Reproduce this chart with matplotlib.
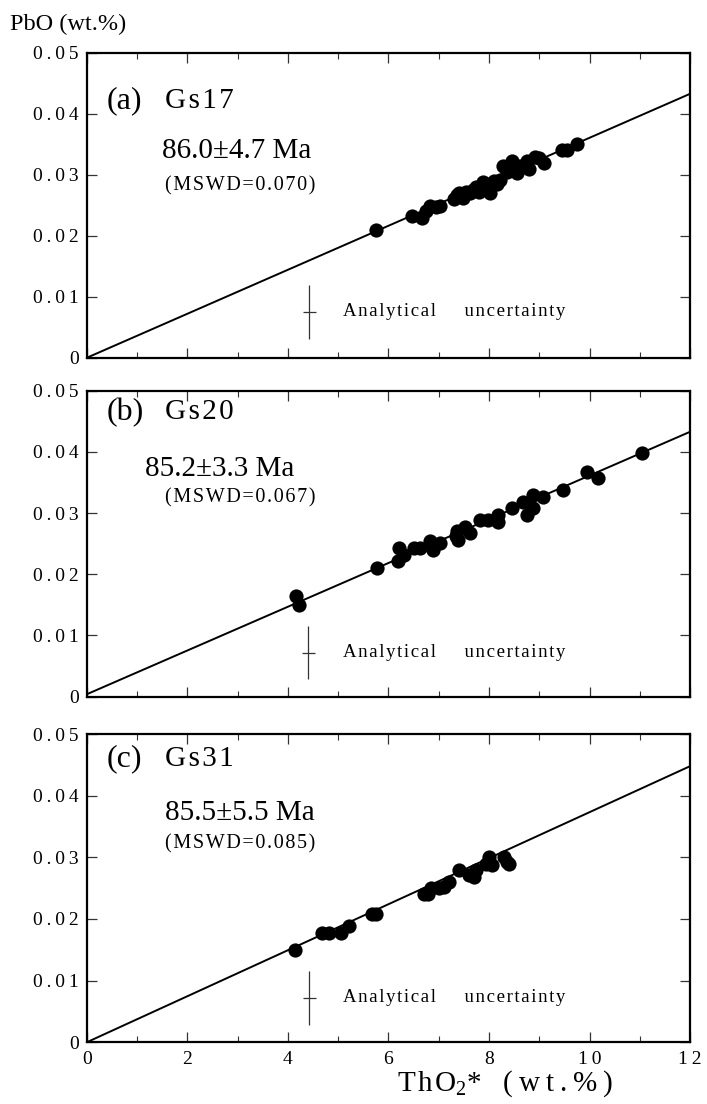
import matplotlib
matplotlib.use("Agg")
import matplotlib.pyplot as plt
import numpy as np

plt.rcParams['font.family'] = ['Liberation Serif', 'DejaVu Serif']
plt.rcParams['mathtext.fontset'] = 'custom'
plt.rcParams['mathtext.rm'] = 'Liberation Serif'

# ---- data ----
samples = ["Gs17", "Gs20", "Gs31"]
panel_tags = ["(a)", "(b)", "(c)"]
ages = ["86.0\u00b14.7 Ma", "85.2\u00b13.3 Ma", "85.5\u00b15.5 Ma"]
mswd = ["(MSWD=0.070)", "(MSWD=0.067)", "(MSWD=0.085)"]

a_tho2 = [5.76, 6.46, 6.66, 6.75, 6.83, 6.95, 7.02, 7.30, 7.36, 7.40, 7.49, 7.55,
          7.62, 7.69, 7.75, 7.80, 7.89, 7.95, 8.02, 8.10, 8.15, 8.22, 8.28, 8.35,
          8.45, 8.50, 8.55, 8.62, 8.75, 8.80, 8.92, 9.00, 9.10, 9.45, 9.55, 9.75]
a_pbo = [0.0210, 0.0232, 0.0229, 0.0240, 0.0249, 0.0248, 0.0249, 0.0260, 0.0267,
         0.0270, 0.0262, 0.0272, 0.0270, 0.0275, 0.0280, 0.0272, 0.0289, 0.0285,
         0.0270, 0.0290, 0.0285, 0.0292, 0.0314, 0.0305, 0.0322, 0.0310, 0.0303,
         0.0315, 0.0322, 0.0310, 0.0330, 0.0328, 0.0320, 0.0340, 0.0340, 0.0350]

b_tho2 = [4.15, 4.21, 5.77, 6.18, 6.20, 6.30, 6.50, 6.63, 6.83, 6.88, 7.02, 7.35,
          7.36, 7.39, 7.52, 7.62, 7.82, 7.98, 8.18, 8.18, 8.45, 8.68, 8.75, 8.88,
          8.88, 9.08, 9.48, 9.94, 10.17, 11.04]
b_pbo = [0.0164, 0.0150, 0.0210, 0.0222, 0.0243, 0.0232, 0.0243, 0.0243, 0.0254,
         0.0240, 0.0251, 0.0262, 0.0270, 0.0256, 0.0278, 0.0268, 0.0289, 0.0289,
         0.0297, 0.0286, 0.0309, 0.0319, 0.0297, 0.0309, 0.0330, 0.0327, 0.0338,
         0.0368, 0.0358, 0.0398]

c_tho2 = [4.14, 4.68, 4.82, 5.06, 5.22, 5.67, 5.76, 6.70, 6.78, 6.85, 7.00, 7.10,
          7.20, 7.40, 7.60, 7.70, 7.75, 7.95, 8.00, 8.05, 8.30, 8.35, 8.40]
c_pbo = [0.0150, 0.0178, 0.0178, 0.0178, 0.0189, 0.0208, 0.0208, 0.0240, 0.0240,
         0.0250, 0.0250, 0.0252, 0.0260, 0.0280, 0.0272, 0.0268, 0.0280, 0.0290,
         0.0300, 0.0288, 0.0300, 0.0292, 0.0290]

# isochron end points (x = 0 and x = 12)
line_x = [0, 12]
line_y = [[0.0, 0.0433], [0.0004, 0.0433], [0.0, 0.0448]]

# analytical uncertainty cross: centre and half widths
err_x = [4.42, 4.40, 4.42]
err_y = [0.0075, 0.0072, 0.0072]
err_dx = 0.13
err_dy = 0.0044

xs = [a_tho2, b_tho2, c_tho2]
ys = [a_pbo, b_pbo, c_pbo]

# text positions in data units
tag_y = [0.0421, 0.0465, 0.0460]
age_pos = [(1.50, 0.0339), (1.15, 0.0372), (1.55, 0.0372)]
mswd_y = [0.0282, 0.0325, 0.0322]

HAIR = "\u200a"
THIN = "\u2009"


def spaced(s, gap=HAIR):
    return gap.join(list(s))


fig = plt.figure(figsize=(7.07, 11.04), dpi=100)
boxes = [(0.123, 0.676, 0.853, 0.276),
         (0.123, 0.369, 0.853, 0.277),
         (0.123, 0.056, 0.853, 0.279)]

for i in range(3):
    ax = fig.add_axes(boxes[i])
    ax.plot(line_x, line_y[i], color="black", lw=1.4, zorder=2)
    ax.scatter(xs[i], ys[i], s=105, color="black", zorder=3, linewidths=0)
    ax.errorbar(err_x[i], err_y[i], xerr=err_dx, yerr=err_dy, fmt="none",
                ecolor="#333333", elinewidth=0.9, capsize=0)

    ax.set_xlim(0, 12)
    ax.set_ylim(0, 0.05)
    ax.set_xticks(np.arange(0, 13, 2))
    ax.set_xticks(np.arange(0, 13, 1), minor=True)
    ax.set_yticks(np.arange(0, 0.051, 0.01))
    ax.set_yticklabels(["0"] + [spaced("%.2f" % v, THIN) for v in [0.01, 0.02, 0.03, 0.04, 0.05]],
                       fontsize=14)
    if i == 2:
        ax.set_xticklabels([spaced(str(v), THIN) for v in range(0, 13, 2)], fontsize=14)
    else:
        ax.set_xticklabels([])
    ax.tick_params(axis="both", which="both", direction="in", top=True, right=True)
    ax.tick_params(axis="both", which="major", length=7, width=0.9, colors="#333333",
                   labelcolor="black", pad=6)
    ax.tick_params(axis="x", which="minor", length=4, width=0.8, colors="#333333")
    for sp in ax.spines.values():
        sp.set_linewidth(1.6)

    ax.text(0.40, tag_y[i], panel_tags[i], fontsize=23, va="center")
    ax.text(1.55, tag_y[i], spaced(samples[i]), fontsize=21, va="center")
    ax.text(age_pos[i][0], age_pos[i][1], ages[i], fontsize=21, va="center")
    ax.text(1.55, mswd_y[i], spaced(mswd[i]), fontsize=14.5, va="center")
    ax.text(5.1, err_y[i], spaced("Analytical") + "      " + spaced("uncertainty"),
            fontsize=13.5, va="center")

fig.text(0.014, 0.978, "PbO (wt.%)", fontsize=17.5, va="center")
fig.text(0.562, 0.018, spaced("ThO") + "$_{2}$*   " + spaced("(wt.%)", THIN),
         fontsize=21, va="center")

fig.savefig("out.png", dpi=100)
